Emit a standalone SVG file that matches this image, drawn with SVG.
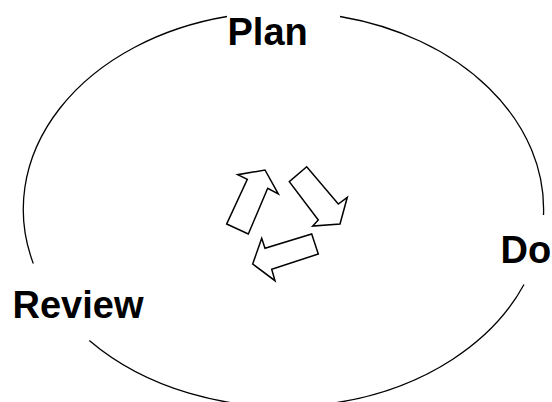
<svg xmlns="http://www.w3.org/2000/svg" width="552" height="402" viewBox="0 0 552 402">
<style>
.ring{fill:none;stroke:#000;stroke-width:1.3}
.arrow{fill:#fff;stroke:#000;stroke-width:1.5;stroke-linejoin:miter}
.lbl{font-family:"Liberation Sans",Arial,sans-serif;font-weight:bold;font-size:38px;fill:#000}
</style>
<rect width="552" height="402" fill="#fff"/>
<g id="connectors">
<path class="ring" d="M227,16.5 A260,197.4 0 0 0 33.3,263.5"/>
<path class="ring" d="M89.3,340.5 A260,197.4 0 0 0 524,284.5"/>
<path class="ring" d="M543.5,215 A260,197.4 0 0 0 340,16.5"/>
</g>
<g id="cycle-arrows">
<polygon class="arrow" points="226.7,224 248.3,234 267.7,188.3 278.3,194 265,170 237.7,174.7 247.3,179.3"/>
<polygon class="arrow" points="306.7,166.7 289.3,181.7 318.3,220 312.7,226 340,224 347.3,197.3 338.3,204"/>
<polygon class="arrow" points="311.7,234 318.3,254 271.7,269.3 275,280.7 252.7,264 261.7,238.3 265,248.3"/>
</g>
<g id="plan"><text class="lbl" x="227.5" y="45">Plan</text></g>
<g id="do"><text class="lbl" x="500.5" y="263">Do</text></g>
<g id="review"><text class="lbl" x="12.5" y="318">Review</text></g>
</svg>
